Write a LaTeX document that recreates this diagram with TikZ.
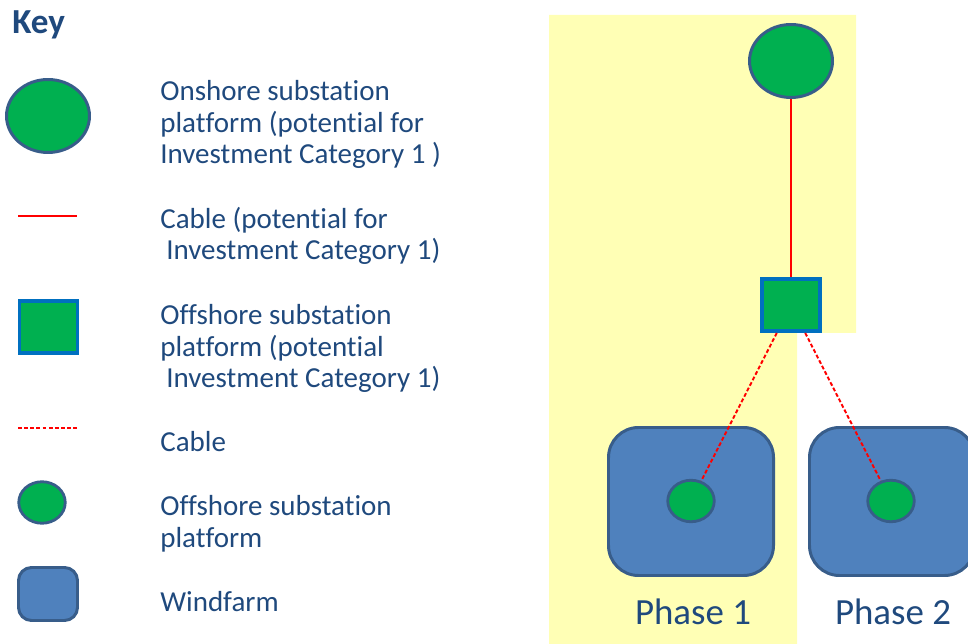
\documentclass[tikz,border=0pt]{standalone}
\usepackage{fontspec}
\setmainfont{Carlito}[Ligatures=NoCommon]
\usetikzlibrary{shapes.geometric}
\definecolor{GreenFill}{HTML}{00B050}
\definecolor{OvalBorder}{HTML}{385D8A}
\definecolor{BoxBorder}{HTML}{0070C0}
\definecolor{FarmFill}{HTML}{4F81BD}
\definecolor{PhaseYellow}{HTML}{FFFFB5}
\definecolor{KeyBlue}{HTML}{1F497D}
\definecolor{CableRed}{HTML}{FF0000}

\begin{document}
\begin{tikzpicture}[
  % ── platform styles ──────────────────────────────────────
  onshore/.style={
    ellipse, draw=OvalBorder, fill=GreenFill, line width=1.7pt,
    minimum width=1.66cm, minimum height=1.46cm, inner sep=0pt
  },
  offshore/.style={
    rectangle, draw=BoxBorder, fill=GreenFill, line width=2.2pt,
    minimum width=1.16cm, minimum height=1.04cm, inner sep=0pt
  },
  platform/.style={
    ellipse, draw=OvalBorder, fill=GreenFill, line width=1.6pt,
    minimum width=0.93cm, minimum height=0.83cm, inner sep=0pt
  },
  % ── windfarm style ───────────────────────────────────────
  farm/.style={
    rectangle, draw=OvalBorder, fill=FarmFill, line width=1.7pt,
    rounded corners=0.6cm, inner sep=0pt
  },
  % ── cable styles ─────────────────────────────────────────
  cable/.style={draw=CableRed, line width=1.1pt},
  cabledash/.style={draw=CableRed, line width=1.1pt, dash pattern=on 2.2pt off 1.3pt},
  % ── text styles (anchored at the last line) ──────────────
  keytext/.style={anchor=base west, align=left, inner sep=0pt,
                  text=KeyBlue, font=\fontsize{16.5}{18}\selectfont},
  phase/.style={anchor=base, inner sep=0pt,
                text=KeyBlue, font=\fontsize{21}{24}\selectfont}
]
\useasboundingbox (0,0) rectangle (19.36,-12.88);

%% ── Phase 1 area ──
\fill[PhaseYellow] (10.98,-0.30) -- (17.12,-0.30) -- (17.12,-6.66)
  -- (15.94,-6.66) -- (15.94,-12.88) -- (10.98,-12.88) -- cycle;

%% ── Key ──
\node[anchor=base west, inner sep=0pt, text=KeyBlue,
      font=\fontsize{20}{24}\selectfont\bfseries] (key) at (0.24,-0.68) {Key};

\node[onshore] (kOn) at (0.96,-2.32) {};
\node[keytext] (tOn) at (3.2,-3.28)
  {Onshore substation\\platform (potential for\\Investment Category 1 )};

\coordinate (kCabA) at (0.36,-4.32);
\coordinate (kCabB) at (1.54,-4.32);
\draw[cable] (kCabA) -- (kCabB);
\node[keytext] (tCab) at (3.2,-5.20)
  {Cable (potential for\\\hspace*{0.12cm}Investment Category 1)};

\node[offshore] (kOff) at (0.97,-6.54) {};
\node[keytext] (tOff) at (3.2,-7.76)
  {Offshore substation\\platform (potential\\\hspace*{0.12cm}Investment Category 1)};

\coordinate (kDashA) at (0.36,-8.56);
\coordinate (kDashB) at (1.54,-8.56);
\draw[cabledash] (kDashA) -- (kDashB);
\node[keytext] (tDash) at (3.2,-9.04) {Cable};

\node[platform] (kPlat) at (0.84,-10.05) {};
\node[keytext] (tPlat) at (3.2,-10.94) {Offshore substation\\platform};

\node[farm, rounded corners=0.26cm, minimum width=1.18cm, minimum height=1.06cm]
  (kFarm) at (0.96,-11.88) {};
\node[keytext] (tFarm) at (3.2,-12.22) {Windfarm};

%% ── Substations ──
\node[onshore]  (ON) at (15.82,-1.22) {};
\node[offshore] (OS) at (15.82,-6.10) {};

%% ── Windfarms ──
\node[farm, minimum width=3.3cm, minimum height=2.96cm] (WF1) at (13.82,-10.03) {};
\node[farm, minimum width=3.3cm, minimum height=2.96cm] (WF2) at (17.84,-10.03) {};
\node[platform] (P1) at (13.82,-10.02) {};
\node[platform] (P2) at (17.82,-10.02) {};

%% ── Cables ──
\draw[cable] (ON) -- (OS);
\draw[cabledash] (OS) -- (P1);
\draw[cabledash] (OS) -- (P2);

%% ── Phase labels ──
\node[phase] (PH1) at (13.86,-12.48) {Phase 1};
\node[phase] (PH2) at (17.86,-12.48) {Phase 2};

\end{tikzpicture}
\end{document}
